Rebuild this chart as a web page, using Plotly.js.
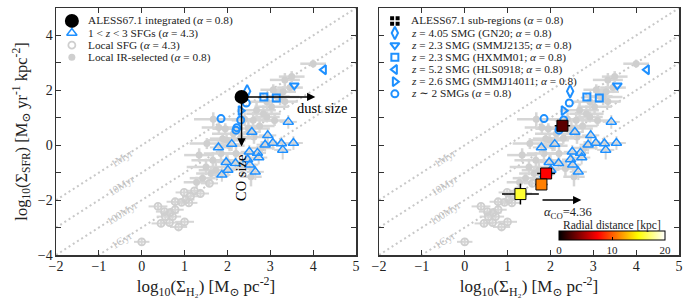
<!DOCTYPE html>
<html><head><meta charset="utf-8">
<script src="https://cdn.plot.ly/plotly-3.0.1.min.js"></script>
<style>html,body{margin:0;padding:0;background:#fff}#chart{width:700px;height:300px}</style>
</head><body><div id="chart"></div>
<script>
// ---------- data (log10 Sigma_H2 [Msun pc^-2], log10 Sigma_SFR [Msun yr^-1 kpc^-2]) ----------
const irX  = [4.00,3.34,3.46,3.07,3.23,2.92,3.03,2.68,2.84,2.60,2.92,2.49,2.14,1.98,1.67,1.80,1.52,1.89,2.05,2.30,1.34,1.66,1.50,1.73,1.62,1.42,1.85,2.20,2.62,3.10,2.75,3.30,2.40,2.00,1.28,2.35,2.80,2.55,1.95,3.50,3.15,3.34];
const irY  = [2.97,2.38,2.10,2.02,1.76,1.58,1.40,1.27,1.15,0.91,1.03,0.61,0.42,0.18,0.95,0.65,0.06,0.24,-0.02,0.25,-0.36,-0.55,-0.79,-0.91,-1.03,-1.20,-0.30,-0.30,0.30,0.90,0.70,1.95,0.95,-0.60,-1.35,-0.85,-0.10,-1.15,0.60,2.50,1.78,1.59];
const irEx = [0.30,0.35,0.30,0.30,0.45,0.40,0.40,0.45,0.40,0.50,0.30,0.50,0.50,0.45,0.45,0.40,0.40,0.30,0.35,0.30,0.35,0.50,0.45,0.40,0.35,0.30,0.40,0.30,0.35,0.30,0.35,0.30,0.40,0.35,0.30,0.30,0.30,0.25,0.30,0.30,0.30,0.30];
const irEy = [0.15,0.25,0.20,0.20,0.30,0.30,0.25,0.30,0.30,0.30,0.20,0.30,0.25,0.25,0.25,0.25,0.20,0.20,0.20,0.20,0.25,0.30,0.30,0.30,0.25,0.20,0.25,0.25,0.25,0.20,0.25,0.20,0.25,0.30,0.20,0.30,0.25,0.35,0.20,0.20,0.20,0.20];

const sfgX  = [0.00,0.45,0.65,0.86,1.00,0.38,0.53,0.66,0.78,0.78,0.93,1.03,0.99,1.14,1.23,1.37,1.58,0.55,0.72,1.10];
const sfgY  = [-3.52,-2.85,-2.82,-2.98,-2.79,-2.23,-2.42,-2.46,-2.35,-2.06,-2.08,-1.98,-1.72,-1.86,-1.66,-1.76,-1.39,-2.60,-2.60,-2.10];
const sfgEx = [0.18,0.22,0.20,0.20,0.22,0.22,0.20,0.20,0.20,0.20,0.20,0.20,0.20,0.20,0.20,0.20,0.20,0.20,0.20,0.20];
const sfgEy = [0.12,0.12,0.12,0.12,0.12,0.12,0.12,0.12,0.12,0.12,0.12,0.12,0.12,0.12,0.12,0.12,0.12,0.12,0.12,0.12];

const hzX  = [1.79,2.10,2.57,2.94,3.42,2.88,3.06,3.26,3.54,3.29,2.51,2.70,2.73,1.97,2.19,2.47,2.52,2.65,2.01,1.87];
const hzY  = [-0.08,0.04,0.48,0.36,0.85,0.02,0.08,0.06,0.08,-0.17,-0.24,-0.28,-0.45,-0.62,-0.66,-0.52,-0.71,-0.97,-0.90,-1.08];
const hzEx = [0.20,0.20,0.20,0.20,0.20,0.20,0.20,0.20,0.22,0.20,0.20,0.20,0.20,0.20,0.20,0.20,0.20,0.20,0.20,0.20];
const hzEy = [0.25,0.25,0.25,0.25,0.25,0.25,0.25,0.25,0.25,0.35,0.25,0.25,0.25,0.25,0.25,0.25,0.25,0.30,0.25,0.25];

const gn20X = [2.46], gn20Y = [1.97];
const smmj2135X = [3.56], smmj2135Y = [2.18];
const hxmm01X = [2.85,3.14], hxmm01Y = [1.76,1.72];
const hls0918X = [4.25], hls0918Y = [2.75];
const smmj14011X = [2.31], smmj14011Y = [1.26];
const smg2X = [2.44,1.85,2.31,2.22,2.20], smg2Y = [1.54,0.97,0.92,0.64,0.55];

const alessX = [2.33], alessY = [1.76];
const dustSizeX = [4.05], coSizeY = [-0.05];

const subX  = [2.28,1.90,1.79,1.30];
const subY  = [0.71,-1.03,-1.43,-1.78];
const subEx = [0.18,0.21,0.14,0.43];
const subEy = [0.06,0.08,0.06,0.38];
const subR  = [2.6,7.3,11.1,15.9];   // radial distance [kpc]

const alphaArrowX = [1.78,2.72], alphaArrowY = -2.0;

const tdepLog = [6,7,8,9];           // log10 depletion time [yr]
const tdepLabels = ['1Myr','10Myr','100Myr','1Gyr'];
const lineX = [-2,5];

const leftLegend = ['ALESS67.1 integrated (<i>α</i> = 0.8)','1 &lt; <i>z</i> &lt; 3 SFGs (<i>α</i> = 4.3)','Local SFG (<i>α</i> = 4.3)','Local IR-selected (<i>α</i> = 0.8)'];
const rightLegend = ['ALESS67.1 sub-regions (<i>α</i> = 0.8)','<i>z</i> = 4.05 SMG (GN20; <i>α</i> = 0.8)','<i>z</i> = 2.3 SMG (SMMJ2135; <i>α</i> = 0.8)','<i>z</i> = 2.3 SMG (HXMM01; <i>α</i> = 0.8)','<i>z</i> = 5.2 SMG (HLS0918; <i>α</i> = 0.8)','<i>z</i> = 2.6 SMG (SMMJ14011; <i>α</i> = 0.8)','<i>z</i> ∼ 2 SMGs (<i>α</i> = 0.8)'];
const cbTitle = 'Radial distance [kpc]';
const cbTicks = [0, 10, 20];

const xTicks = [-2,-1,0,1,2,3,4,5];
const yTickShown = [-4,-2,0,2,4];

// ---------- style ----------
const FONT = '"Liberation Serif","DejaVu Serif",serif';
const BLUE = '#1E90FF';
const GREY = '#cfcfcf';
const EGREY = '#d6d6d6';
const hot = [[0,'#000000'],[0.365,'#ff0000'],[0.746,'#ffff00'],[1,'#ffffff']];
const fmt = v => (v < 0 ? '\u2212' + Math.abs(v) : String(v));

const traces = [];
const annotations = [];

function panel(xa, ya) {
  tdepLog.forEach(t => {
    traces.push({x: lineX, y: lineX.map(v => v + 6 - t), xaxis: xa, yaxis: ya, mode: 'lines',
      line: {color: '#c8c8c8', width: 2, dash: '2px,3px'}, hoverinfo: 'skip', showlegend: false});
  });
  tdepLog.forEach((t, i) => {
    const lx = -0.47;
    annotations.push({x: lx, y: lx + 6 - t, xref: xa, yref: ya, text: tdepLabels[i], showarrow: false,
      textangle: -32.7, font: {family: FONT, size: 10.5, color: '#bebebe'}});
  });
  traces.push({x: irX, y: irY, xaxis: xa, yaxis: ya, mode: 'markers', showlegend: false,
    marker: {color: GREY, size: 7},
    error_x: {type: 'data', array: irEx, color: EGREY, thickness: 2.5, width: 0},
    error_y: {type: 'data', array: irEy, color: EGREY, thickness: 2.5, width: 0}});
  traces.push({x: sfgX, y: sfgY, xaxis: xa, yaxis: ya, mode: 'markers', showlegend: false,
    marker: {symbol: 'circle-open', color: GREY, size: 7, line: {width: 1.8}},
    error_x: {type: 'data', array: sfgEx, color: EGREY, thickness: 2, width: 0},
    error_y: {type: 'data', array: sfgEy, color: EGREY, thickness: 2, width: 0}});
  traces.push({x: hzX, y: hzY, xaxis: xa, yaxis: ya, mode: 'markers', showlegend: false,
    marker: {symbol: 'triangle-up-open', color: BLUE, size: 9, line: {width: 1.5}},
    error_x: {type: 'data', array: hzEx, color: EGREY, thickness: 2, width: 0},
    error_y: {type: 'data', array: hzEy, color: EGREY, thickness: 2, width: 0}});
  const smg = [[gn20X, gn20Y, 'diamond-tall-open', 9],[smmj2135X, smmj2135Y, 'triangle-down-open', 8],
    [hxmm01X, hxmm01Y, 'square-open', 7],[hls0918X, hls0918Y, 'triangle-left-open', 8],
    [smmj14011X, smmj14011Y, 'triangle-right-open', 8],[smg2X, smg2Y, 'circle-open', 7]];
  smg.forEach(s => traces.push({x: s[0], y: s[1], xaxis: xa, yaxis: ya, mode: 'markers', showlegend: false,
    marker: {symbol: s[2], color: BLUE, size: s[3], line: {width: 2}}}));
}

panel('x', 'y');
panel('x2', 'y2');

// ALESS67.1 integrated (left)
traces.push({x: alessX, y: alessY, xaxis: 'x', yaxis: 'y', mode: 'markers', showlegend: false,
  marker: {color: '#000', size: 14}});
const arrowStyle = {showarrow: true, arrowhead: 2, arrowsize: 1.1, arrowwidth: 1.5, arrowcolor: '#000', standoff: 0, text: ''};
annotations.push(Object.assign({x: dustSizeX[0], y: alessY[0], ax: alessX[0], ay: alessY[0], xref: 'x', yref: 'y', axref: 'x', ayref: 'y'}, arrowStyle));
annotations.push(Object.assign({x: alessX[0], y: coSizeY[0], ax: alessX[0], ay: alessY[0], xref: 'x', yref: 'y', axref: 'x', ayref: 'y'}, arrowStyle));
annotations.push({x: 3.57, y: 1.36, xref: 'x', yref: 'y', text: 'dust size', showarrow: false, xanchor: 'left',
  font: {family: FONT, size: 14.5, color: '#000'}});
annotations.push({x: 2.30, y: -0.27, xref: 'x', yref: 'y', text: 'CO size', showarrow: false, textangle: -90,
  xanchor: 'center', yanchor: 'top', font: {family: FONT, size: 14.5, color: '#000'}});

// ALESS67.1 sub-regions (right)
traces.push({x: subX, y: subY, xaxis: 'x2', yaxis: 'y2', mode: 'markers', showlegend: false,
  marker: {symbol: 'square', size: 11, color: subR, cmin: 0, cmax: 20, colorscale: hot, showscale: true,
    line: {color: '#000', width: 1},
    colorbar: {orientation: 'h', x: 0.8925, xanchor: 'center', y: 0.097, yanchor: 'top', len: 106, lenmode: 'pixels',
      thickness: 9, outlinewidth: 1, outlinecolor: '#000', tickvals: cbTicks, ticks: 'inside', ticklen: 3,
      tickcolor: '#000', tickfont: {family: FONT, size: 11, color: '#222'}, xpad: 0, ypad: 0}},
  error_x: {type: 'data', array: subEx, color: '#000', thickness: 1.5, width: 0},
  error_y: {type: 'data', array: subEy, color: '#000', thickness: 1.5, width: 0}});
annotations.push({x: 3.43, y: -2.93, xref: 'x2', yref: 'y2', text: cbTitle, showarrow: false,
  font: {family: FONT, size: 11.5, color: '#222'}});
annotations.push(Object.assign({x: alphaArrowX[1], y: alphaArrowY, ax: alphaArrowX[0], ay: alphaArrowY, xref: 'x2', yref: 'y2', axref: 'x2', ayref: 'y2'}, arrowStyle));
annotations.push({x: alphaArrowX[0] + 0.02, y: alphaArrowY - 0.1, xref: 'x2', yref: 'y2', text: '<i>α</i><sub>CO</sub>=4.36',
  showarrow: false, xanchor: 'left', yanchor: 'top', font: {family: FONT, size: 12.5, color: '#222'}});

// ---------- hand-laid legends (compact row spacing as in the reference) ----------
const legX = -1.63, legTextX = -1.30, legTop = 4.53, legStep = 0.443;
const leftGlyphs = [
  {symbol: 'circle', color: '#000', size: 14},
  {symbol: 'triangle-up-open', color: BLUE, size: 9, line: {width: 1.5}},
  {symbol: 'circle-open', color: GREY, size: 7, line: {width: 1.8}},
  {symbol: 'circle', color: GREY, size: 7}];
const rightGlyphs = [
  {symbol: 'square-cross', color: '#000', size: 11, line: {color: '#fff', width: 1.5}},
  {symbol: 'diamond-tall-open', color: BLUE, size: 9, line: {width: 2}},
  {symbol: 'triangle-down-open', color: BLUE, size: 8, line: {width: 2}},
  {symbol: 'square-open', color: BLUE, size: 7, line: {width: 2}},
  {symbol: 'triangle-left-open', color: BLUE, size: 8, line: {width: 2}},
  {symbol: 'triangle-right-open', color: BLUE, size: 8, line: {width: 2}},
  {symbol: 'circle-open', color: BLUE, size: 7, line: {width: 2}}];
[[leftLegend, leftGlyphs, 'x', 'y'], [rightLegend, rightGlyphs, 'x2', 'y2']].forEach(([labels, glyphs, xa, ya]) => {
  labels.forEach((lab, i) => {
    const yy = legTop - i * legStep;
    traces.push({x: [legX], y: [yy], xaxis: xa, yaxis: ya, mode: 'markers', marker: glyphs[i], showlegend: false, hoverinfo: 'skip'});
    annotations.push({x: legTextX, y: yy, xref: xa, yref: ya, text: lab, showarrow: false, xanchor: 'left', yanchor: 'middle',
      font: {family: FONT, size: 11.3, color: '#222'}});
  });
});

// ---------- axes ----------
const xTitle = 'log<sub>10</sub>(Σ<sub>H₂</sub>) [M<sub>⊙</sub> pc<sup>-2</sup>]';
const axCommon = {showgrid: false, zeroline: false, showline: true, linecolor: '#333', linewidth: 1.5, mirror: 'ticks',
  ticks: 'inside', ticklen: 5, tickwidth: 1.2, tickcolor: '#333', tickfont: {family: FONT, size: 14, color: '#222'},
  ticklabelstandoff: -2};
const xAx = dom => Object.assign({}, axCommon, {domain: dom, range: [-2, 5], tickmode: 'array', tickvals: xTicks,
  ticktext: xTicks.map(fmt), title: {text: xTitle, font: {family: FONT, size: 17, color: '#222'}, standoff: 0}});
const yMinor = {dtick: 1, ticks: 'inside', ticklen: 5, tickwidth: 1.2, tickcolor: '#333', showgrid: false};

const layout = {
  width: 700, height: 300, margin: {l: 56, r: 21, t: 8, b: 45, autoexpand: false}, paper_bgcolor: '#fff', plot_bgcolor: '#fff',
  showlegend: false, font: {family: FONT},
  xaxis: xAx([0, 300 / 623]),
  xaxis2: xAx([323 / 623, 1]),
  yaxis: Object.assign({}, axCommon, {anchor: 'x', range: [-4, 5], tickmode: 'array', tickvals: yTickShown,
    ticktext: yTickShown.map(fmt), minor: yMinor, ticklabelstandoff: -1,
    title: {text: 'log<sub>10</sub>(Σ<sub>SFR</sub>) [M<sub>⊙</sub> yr<sup>-1</sup> kpc<sup>-2</sup>]', font: {family: FONT, size: 16.5, color: '#222'}, standoff: 6}}),
  yaxis2: Object.assign({}, axCommon, {anchor: 'x2', matches: 'y', range: [-4, 5], tickmode: 'array', tickvals: yTickShown,
    minor: yMinor, showticklabels: false}),
  annotations: annotations
};

Plotly.newPlot('chart', traces, layout, {staticPlot: true, displayModeBar: false});
</script></body></html>
